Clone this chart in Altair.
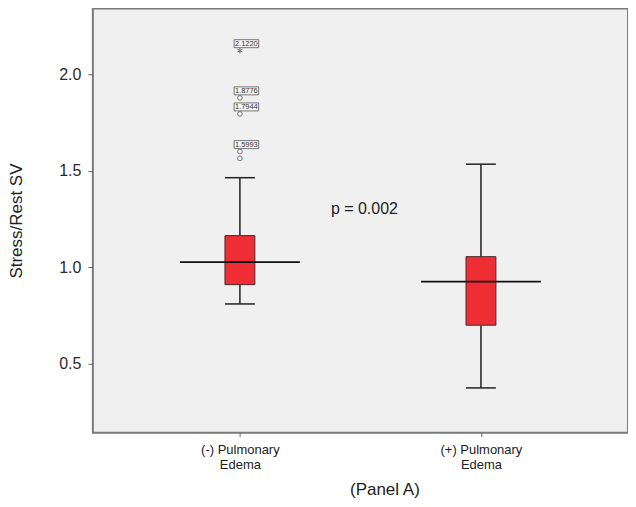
import altair as alt
import pandas as pd

# ---- data ----
label_line1 = ["(-) Pulmonary", "(+) Pulmonary"]
label_line2 = ["Edema", "Edema"]
positions = [1, 2]
whisker_low = [0.810, 0.375]
q1 = [0.910, 0.700]
median = [1.027, 0.926]
q3 = [1.164, 1.055]
whisker_high = [1.464, 1.534]

outlier_values = [2.1220, 1.8776, 1.7944, 1.5993, 1.5640]
outlier_kind = ["extreme", "outlier", "outlier", "outlier", "outlier"]
outlier_labels = ["2.1220", "1.8776", "1.7944", "1.5993", ""]
outlier_pos = [1, 1, 1, 1, 1]

p_text = ["p = 0.002"]
p_x = [1.5]
p_y = [1.30]

y_ticks = [0.5, 1.0, 1.5, 2.0]
x_title = "(Panel A)"
y_title = "Stress/Rest SV"

# ---- geometry (style) ----
BOX_HALF = 0.062
MED_HALF = 0.2485
X_DOMAIN = [0.39, 2.61]
Y_DOMAIN = [0.143, 2.341]

box_df = pd.DataFrame({
    "pos": positions, "lo": whisker_low, "q1": q1, "med": median,
    "q3": q3, "hi": whisker_high,
})
box_df["bx0"] = box_df["pos"] - BOX_HALF
box_df["bx1"] = box_df["pos"] + BOX_HALF
box_df["mx0"] = box_df["pos"] - MED_HALF
box_df["mx1"] = box_df["pos"] + MED_HALF

out_df = pd.DataFrame({"pos": outlier_pos, "v": outlier_values,
                       "kind": outlier_kind, "label": outlier_labels})
p_df = pd.DataFrame({"x": p_x, "y": p_y, "t": p_text})

label_expr = "datum.value == {0} ? ['{1}', '{2}'] : ['{3}', '{4}']".format(
    positions[0], label_line1[0], label_line2[0], label_line1[1], label_line2[1])

xs = alt.Scale(domain=X_DOMAIN, nice=False, zero=False)
ys = alt.Scale(domain=Y_DOMAIN, nice=False, zero=False)

x_axis = alt.Axis(values=positions, labelExpr=label_expr, title=x_title,
                  grid=False, domain=False, tickSize=4, tickColor="#666",
                  labelFontSize=13, labelColor="#222", labelPadding=7,
                  labelLineHeight=15, labelBaseline="top",
                  titleFontSize=17, titleFontWeight="normal", titleColor="#222",
                  titleX=292, titleY=57, titleAlign="center", titleBaseline="middle")
y_axis = alt.Axis(values=y_ticks, format=".1f", title=y_title, grid=False,
                  domain=False, tickSize=5, tickColor="#666",
                  labelFontSize=16, labelColor="#2a2a2a", labelPadding=7,
                  titleFontSize=17, titleFontWeight="normal", titleColor="#222",
                  titlePadding=33)

base = alt.Chart(box_df)

whisk_low = base.mark_rule(color="#222", strokeWidth=1.5).encode(
    x=alt.X("pos:Q", scale=xs, axis=x_axis),
    y=alt.Y("lo:Q", scale=ys, axis=y_axis), y2="q1:Q")
whisk_high = base.mark_rule(color="#222", strokeWidth=1.5).encode(
    x=alt.X("pos:Q", scale=xs), y=alt.Y("q3:Q", scale=ys), y2="hi:Q")
cap_low = base.mark_rule(color="#222", strokeWidth=1.5).encode(
    x=alt.X("bx0:Q", scale=xs), x2="bx1:Q", y=alt.Y("lo:Q", scale=ys))
cap_high = base.mark_rule(color="#222", strokeWidth=1.5).encode(
    x=alt.X("bx0:Q", scale=xs), x2="bx1:Q", y=alt.Y("hi:Q", scale=ys))
boxes = base.mark_rect(fill="#ee2d35", stroke="#4a2a2a", strokeWidth=1).encode(
    x=alt.X("bx0:Q", scale=xs), x2="bx1:Q",
    y=alt.Y("q1:Q", scale=ys), y2="q3:Q")
med = base.mark_rule(color="#111", strokeWidth=1.8).encode(
    x=alt.X("mx0:Q", scale=xs), x2="mx1:Q", y=alt.Y("med:Q", scale=ys))

obase = alt.Chart(out_df)
circles = obase.transform_filter("datum.kind == 'outlier'").mark_point(
    shape="circle", size=22, filled=False, stroke="#333", strokeWidth=0.9
).encode(x=alt.X("pos:Q", scale=xs), y=alt.Y("v:Q", scale=ys))
star = obase.transform_filter("datum.kind == 'extreme'").mark_point(
    shape="M0,-1L0,1M-0.87,-0.5L0.87,0.5M-0.87,0.5L0.87,-0.5",
    size=30, filled=False, stroke="#333", strokeWidth=1
).encode(x=alt.X("pos:Q", scale=xs), y=alt.Y("v:Q", scale=ys))
label_boxes = obase.transform_filter("datum.label != ''").mark_point(
    shape="M-1.23,-0.4L1.23,-0.4L1.23,0.4L-1.23,0.4Z", size=400,
    filled=True, fill="#f6f6f6", stroke="#555", strokeWidth=0.8, opacity=1,
    xOffset=6.5, yOffset=-7
).encode(x=alt.X("pos:Q", scale=xs), y=alt.Y("v:Q", scale=ys))
label_text = obase.transform_filter("datum.label != ''").mark_text(
    align="left", baseline="middle", dx=-5, dy=-7, fontSize=7.5, color="#333"
).encode(x=alt.X("pos:Q", scale=xs), y=alt.Y("v:Q", scale=ys), text="label:N")

ptxt = alt.Chart(p_df).mark_text(fontSize=16, color="#222", align="center",
                                 baseline="middle", dx=4).encode(
    x=alt.X("x:Q", scale=xs), y=alt.Y("y:Q", scale=ys), text="t:N")

chart = alt.layer(
    whisk_low, whisk_high, cap_low, cap_high, boxes, med,
    circles, star, label_boxes, label_text, ptxt
).properties(
    width=536, height=425,
    autosize=alt.AutoSizeParams(type="none"),
    padding={"left": 85, "top": 0, "right": 0, "bottom": 66},
).configure(
    font="Liberation Sans", background="white",
    view=alt.ViewConfig(fill="#f0f0f0", stroke="#7a7a7a", strokeWidth=2),
)

chart.save("out.html", embed_options={"renderer": "svg", "actions": False})
